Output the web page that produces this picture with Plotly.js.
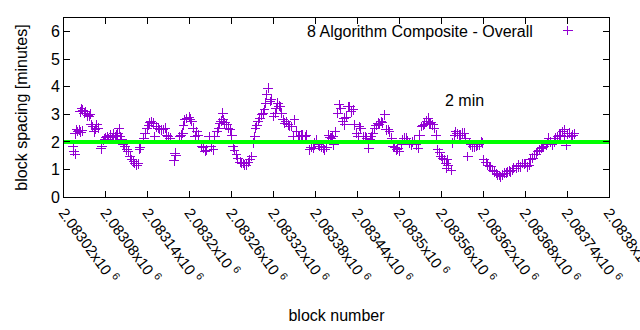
<!DOCTYPE html>
<html>
<head>
<meta charset="utf-8">
<script src="https://cdn.plot.ly/plotly-3.0.1.min.js"></script>
<style>html,body{margin:0;padding:0;background:#fff;}#chart{width:640px;height:330px;}
#chart path.point, #chart .legendpoints path, #chart .xtick, #chart .ytick{shape-rendering:crispEdges;}</style>
</head>
<body>
<div id="chart"></div>
<script>
// block numbers
const blocks = [
2083033,2083034,2083036,2083036,2083038,2083040,2083042,2083044,2083046,
2083043,2083045,2083047,2083049,2083051,2083054,2083056,2083058,
2083059,2083061,2083063,2083065,2083067,2083069,
2083073,2083074,
2083076,2083078,2083080,2083082,2083084,2083086,2083089,2083091,2083093,2083095,2083097,2083099,2083101,2083103,
2083105,2083107,2083110,2083112,2083115,2083117,2083120,2083121,2083124,2083126,
2083128,2083129,
2083134,2083136,2083139,2083141,2083143,2083145,
2083148,2083150,2083152,2083155,2083157,2083160,2083162,2083165,2083167,2083169,2083172,
2083178,2083179,2083180,
2083186,2083188,2083190,
2083191,2083193,2083196,2083199,2083201,2083203,2083205,2083208,2083210,2083212,
2083217,2083219,2083222,2083224,2083228,2083231,2083234,
2083236,2083239,2083241,2083243,2083245,2083247,2083248,2083250,2083253,2083255,2083258,2083260,
2083262,2083264,2083267,2083269,2083272,2083274,2083277,2083279,2083281,2083284,2083286,2083289,
2083291,2083293,2083294,2083296,2083298,2083300,2083303,2083305,2083307,2083309,2083310,2083312,2083315,2083317,
2083320,2083322,2083324,2083326,2083328,2083330,2083332,2083334,2083336,2083338,2083341,2083343,2083346,2083348,2083350,2083353,2083355,2083357,
2083360,2083362,2083365,2083367,
2083372,2083374,2083377,2083379,2083381,2083384,2083386,2083389,2083391,2083393,2083396,
2083399,2083401,2083403,2083405,2083406,2083408,
2083412,2083414,2083416,2083419,2083421,2083422,2083424,2083427,2083429,2083431,2083434,2083436,
2083439,2083441,2083443,2083445,2083448,2083451,2083453,2083456,2083458,2083460,2083462,2083465,2083467,2083470,2083471,2083474,2083476,2083479,2083481,2083484,2083486,2083489,2083491,2083493,2083496,2083498,2083500,2083503,2083505,2083507,2083510,2083512,2083514,2083517,2083519,2083522,2083524,2083527,2083529,2083532,2083534,2083536,2083539,2083541,2083543,2083545,2083548,2083550,2083553,2083555,2083558,2083560,2083562,2083564,2083567,2083568,2083570,2083569,
2083574,2083576,2083579,2083581,2083583,2083586,2083588,2083591,2083593,2083595,2083598,2083600,2083602,2083605,2083607,2083610,2083612,2083614,2083617,
2083619,2083621,2083624,2083626,2083629,2083631,2083634,2083636,2083639,2083641,2083643,2083645,2083648,2083650,2083653,2083655,2083657,2083659,2083662,2083664,2083667,2083670,2083671,2083674,2083676,2083679,2083681,2083683,2083686,2083688,2083691,2083693,2083696,2083698,2083700,2083703,2083705,2083707,2083710,2083712,2083714,2083716,2083719,2083722,2083724,2083727,2083729,2083731,2083734,2083736,2083737,2083739,2083741,2083743,2083746,2083748,2083750
];
// block spacing in minutes
const spacing = [
1.83,1.65,1.55,2.30,2.45,2.38,2.42,2.35,2.40,
3.10,3.20,3.15,3.05,3.10,2.95,2.92,3.00,
2.62,2.56,2.37,2.45,2.62,2.50,
1.75,1.82,
2.05,2.10,2.15,2.20,2.10,2.25,2.15,2.30,2.20,2.25,2.30,2.47,2.20,2.10,
1.89,1.85,1.71,1.65,1.47,1.35,1.28,1.22,1.16,1.20,
1.73,1.79,
2.13,2.30,2.50,2.60,2.70,2.74,
2.68,2.19,2.55,2.50,2.45,2.44,2.45,2.50,2.25,2.20,2.13,
1.31,1.59,1.50,
2.19,2.25,2.31,
2.60,2.80,2.85,2.90,2.82,2.74,2.50,2.19,2.37,2.25,
1.83,1.78,1.65,1.70,2.19,1.83,1.71,
2.20,2.37,2.50,2.68,2.75,3.04,2.80,2.70,2.62,2.50,2.44,2.25,
1.83,1.70,1.53,1.40,1.26,1.22,1.22,1.15,1.16,1.25,1.35,1.47,
1.95,2.19,2.50,2.60,2.74,2.85,2.98,3.05,3.16,3.40,3.71,3.95,3.47,3.53,
2.92,3.04,3.20,3.40,3.30,3.28,3.04,2.80,2.68,2.74,2.62,2.56,2.56,2.19,2.80,2.37,2.19,2.20,
2.25,2.25,2.20,2.25,
1.71,1.80,1.77,1.95,2.07,1.90,1.85,1.83,1.78,1.71,1.80,
2.25,2.15,2.13,2.19,1.89,2.37,
3.04,3.35,3.20,2.74,2.86,2.62,2.90,3.28,3.28,3.10,3.16,2.62,
2.31,2.19,2.56,2.50,2.19,2.20,2.13,1.77,2.10,2.19,2.30,2.50,2.60,2.68,2.65,2.74,2.70,2.98,2.44,2.45,2.37,2.13,1.83,1.80,1.71,1.75,1.65,1.90,2.07,2.13,2.13,2.05,1.95,1.89,2.00,2.07,1.90,1.77,2.25,2.56,2.60,2.65,2.75,2.86,2.68,2.70,2.62,2.50,2.25,1.71,1.60,1.47,1.40,1.35,1.22,1.04,1.16,1.35,0.98,
1.95,2.25,2.37,2.30,2.25,2.25,2.31,2.31,2.13,1.47,1.95,1.90,1.83,1.83,1.85,1.89,1.89,2.01,1.95,
1.35,1.25,1.16,1.10,1.10,0.98,0.92,0.85,0.80,0.78,0.74,0.80,0.86,0.86,0.92,0.95,0.92,0.98,1.04,1.04,1.10,1.16,1.10,1.22,1.20,1.22,1.10,1.16,1.35,1.41,1.53,1.55,1.65,1.70,1.77,1.80,1.83,1.90,1.95,2.13,2.01,1.90,2.00,2.13,2.20,2.25,2.25,2.37,2.44,2.19,1.87,2.30,2.31,2.20,2.25,2.30,2.19
];
// 2 minute target line
const targetX = [2083020, 2083800];
const targetY = [2, 2];
// x tick values and labels
const xTickVals = [2083020,2083080,2083140,2083200,2083260,2083320,2083380,2083440,2083500,2083560,2083620,2083680,2083740,2083800];
const xTickMant = ['2.08302','2.08308','2.08314','2.0832','2.08326','2.08332','2.08338','2.08344','2.0835','2.08356','2.08362','2.08368','2.08374','2.0838'];
const xTickText = xTickMant.map(m => m + 'x10 <sup>6</sup>');
const seriesName = '8 Algorithm Composite - Overall';
const purple = '#9400d3';

const traces = [
  {x: blocks, y: spacing, type: 'scatter', mode: 'markers', name: seriesName, showlegend: false, cliponaxis: false,
   marker: {symbol: 'cross-thin-open', size: 7, color: purple, line: {color: purple, width: 1}}},
  {x: targetX, y: targetY, type: 'scatter', mode: 'lines', name: '2 min', showlegend: false,
   line: {color: '#00ff00', width: 4}},
  {x: [null], y: [null], type: 'scatter', mode: 'markers', name: ' ', showlegend: true,
   marker: {symbol: 'cross-thin-open', size: 7, color: purple, line: {color: purple, width: 1}}}
];
const fam = 'Liberation Sans, Arial, sans-serif';
const font = {family: fam, size: 16, color: '#000'};
const layout = {
  width: 640, height: 330,
  margin: {l: 64, r: 31, t: 18, b: 133},
  paper_bgcolor: '#fff', plot_bgcolor: '#fff',
  font: font,
  showlegend: true,
  legend: {x: 0.888, y: 1.025, xanchor: 'left', yanchor: 'top', bgcolor: 'rgba(0,0,0,0)', font: font, itemwidth: 30, tracegroupgap: 0},
  xaxis: {range: [2083020, 2083800.05], tickmode: 'array', tickvals: xTickVals, ticktext: xTickText,
    tickangle: 54, ticks: 'inside', ticklen: 6, tickcolor: '#000', mirror: 'ticks', showline: true, linecolor: '#000', linewidth: 1,
    showgrid: false, zeroline: false, tickfont: {family: fam, size: 15, color: '#000'}, ticklabeloverflow: 'allow',
    title: {text: 'block number', font: font, standoff: 24}, automargin: false},
  yaxis: {range: [0, 6.5], tickvals: [0,1,2,3,4,5,6], ticks: 'inside', ticklen: 6, tickcolor: '#000', mirror: 'ticks',
    showline: true, linecolor: '#000', linewidth: 1, showgrid: false, zeroline: false,
    tickfont: {family: fam, size: 16, color: '#000'},
    title: {text: 'block spacing [minutes]', font: font, standoff: 19}, automargin: false},
  annotations: [
    {text: seriesName, xref: 'paper', yref: 'paper', x: 0.865, y: 0.925, xanchor: 'right', yanchor: 'middle', showarrow: false, font: font},
    {text: '2 min', xref: 'x', yref: 'y', x: 2083593, y: 3.5, xanchor: 'center', yanchor: 'middle', showarrow: false, font: font}
  ]
};
Plotly.newPlot('chart', traces, layout, {displayModeBar: false, staticPlot: true});
</script>
</body>
</html>
